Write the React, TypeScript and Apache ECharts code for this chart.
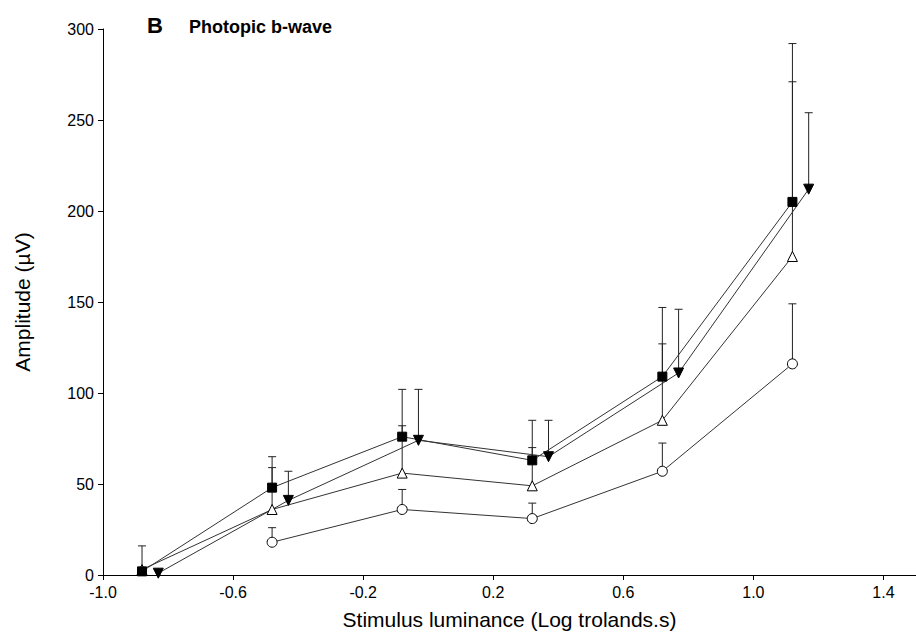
import React, { useEffect, useRef } from "react";
import * as echarts from "echarts";

// x positions (Log trolands.s)
const xMain = [-0.88, -0.48, -0.08, 0.32, 0.72, 1.12];
const xShift = [-0.83, -0.43, -0.03, 0.37, 0.77, 1.17];
const xCircle = [-0.48, -0.08, 0.32, 0.72, 1.12];

// filled squares
const squareVals = [2, 48, 76, 63, 109, 205];
const squareErr = [16, 65, 102, 85, 147, 292];
// filled inverted triangles
const downVals = [1, 41, 74, 65, 111, 212];
const downErr = [1, 57, 102, 85, 146, 254];
// open triangles
const upVals = [3, 36, 56, 49, 85, 175];
const upErr = [3, 59, 82, 70, 127, 271];
// open circles
const circleVals = [18, 36, 31, 57, 116];
const circleErr = [26, 47, 39.5, 72.5, 149];

const xTicks = [-1.0, -0.6, -0.2, 0.2, 0.6, 1.0, 1.4];
const yTicks = [0, 50, 100, 150, 200, 250, 300];

const FONT = "'Liberation Sans', Arial, sans-serif";
const LINE = "#333";

function pts(xs: number[], ys: number[]) {
  return xs.map((x, i) => [x, ys[i]]);
}
function errPts(xs: number[], ys: number[], es: number[]) {
  return xs.map((x, i) => [x, ys[i], es[i]]);
}

const renderErr = (params: any, api: any) => {
  const x = api.value(0);
  const y = api.value(1);
  const t = api.value(2);
  if (!(t > y)) return { type: "group", children: [] };
  const p0 = api.coord([x, y]);
  const p1 = api.coord([x, t]);
  const st = { stroke: "#222", lineWidth: 1 };
  return {
    type: "group",
    children: [
      { type: "line", shape: { x1: p0[0], y1: p0[1], x2: p1[0], y2: p1[1] }, style: st },
      { type: "line", shape: { x1: p1[0] - 4, y1: p1[1], x2: p1[0] + 4, y2: p1[1] }, style: st },
    ],
  };
};

function errSeries(data: number[][]) {
  return {
    type: "custom",
    renderItem: renderErr,
    data,
    encode: { x: 0, y: 1 },
    z: 1,
    silent: true,
  };
}

function lineSeries(data: number[][], symbol: string, size: number, fill: string, rotate = 0) {
  return {
    type: "line",
    data,
    symbol,
    symbolSize: size,
    symbolRotate: rotate,
    showAllSymbol: true,
    z: 3,
    lineStyle: { color: LINE, width: 1 },
    itemStyle: { color: fill, borderColor: "#000", borderWidth: 1 },
    emphasis: { disabled: true },
  };
}

export default function App() {
  const ref = useRef<HTMLDivElement>(null);
  useEffect(() => {
    if (!ref.current) return;
    const chart = echarts.init(ref.current, undefined, { renderer: "svg" });
    const option: any = {
      animation: false,
      backgroundColor: "#fff",
      textStyle: { fontFamily: FONT },
      title: [
        { text: "B", left: 142, top: 9, textStyle: { fontFamily: FONT, fontSize: 22, fontWeight: "bold", color: "#000" } },
        { text: "Photopic b-wave", left: 184, top: 13, textStyle: { fontFamily: FONT, fontSize: 18, fontWeight: "bold", color: "#000" } },
      ],
      grid: { left: 103, right: -6, top: 29, bottom: 69, containLabel: false },
      xAxis: {
        type: "value",
        min: -1.0,
        max: 1.5,
        name: "Stimulus luminance (Log trolands.s)",
        nameLocation: "middle",
        nameGap: 34,
        nameTextStyle: { fontFamily: FONT, fontSize: 21, color: "#000" },
        axisLine: { show: true, onZero: false, lineStyle: { color: "#000", width: 1 } },
        axisTick: { show: true, length: 5, customValues: xTicks, lineStyle: { color: "#000" } },
        axisLabel: {
          customValues: xTicks,
          formatter: (v: number) => v.toFixed(1),
          fontFamily: FONT,
          fontSize: 16,
          color: "#000",
          margin: 9,
        },
        splitLine: { show: false },
      },
      yAxis: {
        type: "value",
        min: 0,
        max: 300,
        name: "Amplitude (µV)",
        nameLocation: "middle",
        nameGap: 70,
        nameTextStyle: { fontFamily: FONT, fontSize: 21, color: "#000" },
        axisLine: { show: true, onZero: false, lineStyle: { color: "#000", width: 1 } },
        axisTick: { show: true, length: 5, customValues: yTicks, lineStyle: { color: "#000" } },
        axisLabel: { customValues: yTicks, fontFamily: FONT, fontSize: 16, color: "#000", margin: 9 },
        splitLine: { show: false },
      },
      series: [
        errSeries(errPts(xCircle, circleVals, circleErr)),
        errSeries(errPts(xMain, upVals, upErr)),
        errSeries(errPts(xShift, downVals, downErr)),
        errSeries(errPts(xMain, squareVals, squareErr)),
        lineSeries(pts(xCircle, circleVals), "circle", 10, "#fff"),
        lineSeries(pts(xMain, upVals), "triangle", 10, "#fff"),
        lineSeries(pts(xShift, downVals), "triangle", 10, "#000", 180),
        lineSeries(pts(xMain, squareVals), "rect", 9, "#000"),
      ],
    };
    chart.setOption(option);
    return () => chart.dispose();
  }, []);
  return (
    <div
      ref={ref}
      style={{ position: "fixed", left: 0, top: 0, width: 916, height: 644, background: "#fff" }}
    />
  );
}
